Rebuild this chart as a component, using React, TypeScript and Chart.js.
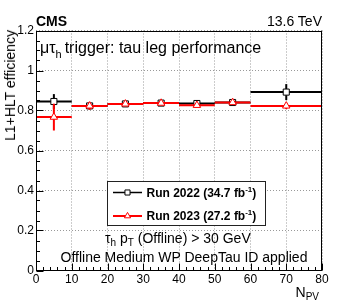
import React, { useEffect, useRef } from "react";
import { Chart, registerables } from "chart.js";

Chart.register(...registerables);

// ---------- data ----------
const binEdges = [0, 10, 20, 30, 40, 50, 60, 80];
const eff2022 = [0.845, 0.823, 0.833, 0.837, 0.835, 0.84, 0.892];
const err2022 = [0.037, 0.012, 0.008, 0.008, 0.01, 0.012, 0.04];
const eff2023 = [0.767, 0.823, 0.833, 0.837, 0.826, 0.84, 0.823];
const err2023 = [0.067, 0.02, 0.008, 0.008, 0.01, 0.012, 0.016];
const xTicks = [0, 10, 20, 30, 40, 50, 60, 70, 80];
const yTicks = [0, 0.2, 0.4, 0.6, 0.8, 1.0, 1.2];
const seriesLabels = ["Run 2022 (34.7 fb", "Run 2023 (27.2 fb"];
const seriesColors = ["#000000", "#ff0000"];
const seriesMarkers = ["rect", "triangle"];

const FONT = '"Liberation Sans", Arial, Helvetica, sans-serif';

function drawMarker(ctx: CanvasRenderingContext2D, style: string, x: number, y: number, r: number, color: string) {
  ctx.save();
  ctx.fillStyle = "#ffffff";
  ctx.strokeStyle = color;
  ctx.lineWidth = 1;
  ctx.beginPath();
  if (style === "rect") {
    const s = Math.SQRT1_2 * r;
    ctx.rect(x - s, y - s, 2 * s, 2 * s);
  } else {
    ctx.moveTo(x, y - r);
    ctx.lineTo(x + r * Math.sin(Math.PI / 3), y + r * Math.cos(Math.PI / 3));
    ctx.lineTo(x - r * Math.sin(Math.PI / 3), y + r * Math.cos(Math.PI / 3));
    ctx.closePath();
  }
  ctx.fill();
  ctx.stroke();
  ctx.restore();
}

export default function App() {
  const ref = useRef<HTMLCanvasElement>(null);

  useEffect(() => {
    const canvas = ref.current;
    if (!canvas) return;
    const centers = binEdges.slice(0, -1).map((e, i) => (e + binEdges[i + 1]) / 2);
    const stepData = (vals: number[]) => {
      const out: any[] = [];
      vals.forEach((v, i) => {
        out.push({ x: binEdges[i], y: v });
        out.push({ x: binEdges[i + 1], y: v });
        if (i < vals.length - 1) out.push({ x: binEdges[i + 1], y: null });
      });
      return out;
    };
    const allVals = [eff2022, eff2023];
    const allErrs = [err2022, err2023];
    const radii = [4.3, 4.3];

    // Chart.js draws the first dataset on top, so build in reverse series order.
    const datasets: any[] = [];
    [1, 0].forEach((s) => {
      const vals = allVals[s];
      datasets.push({
        type: "line",
        data: vals.map((v, i) => ({ x: centers[i], y: v })),
        showLine: false,
        pointStyle: seriesMarkers[s],
        pointRadius: radii[s],
        pointBackgroundColor: "#ffffff",
        pointBorderColor: seriesColors[s],
        pointBorderWidth: 1,
      });
      datasets.push({
        type: "line",
        data: stepData(vals),
        borderColor: seriesColors[s],
        borderWidth: 2,
        pointRadius: 0,
        spanGaps: false,
        tension: 0,
        fill: false,
        errSeries: s,
      });
    });

    const errPlugin = {
      id: "errbars",
      afterDatasetDraw(chart: any, args: any) {
        const ds = chart.data.datasets[args.index];
        if (ds.errSeries === undefined) return;
        const s = ds.errSeries;
        const xs = chart.scales.x;
        const ys = chart.scales.y;
        const ctx = chart.ctx;
        ctx.save();
        ctx.strokeStyle = seriesColors[s];
        ctx.lineWidth = 2;
        allVals[s].forEach((v, i) => {
          const px = xs.getPixelForValue(centers[i]);
          ctx.beginPath();
          ctx.moveTo(px, ys.getPixelForValue(v - allErrs[s][i]));
          ctx.lineTo(px, ys.getPixelForValue(v + allErrs[s][i]));
          ctx.stroke();
        });
        ctx.restore();
      },
    };

    const framePlugin = {
      id: "frame",
      afterDatasetsDraw(chart: any) {
        const { ctx, chartArea } = chart;
        const xs = chart.scales.x;
        const ys = chart.scales.y;
        ctx.save();
        ctx.strokeStyle = "#000";
        ctx.lineWidth = 1;
        const l = Math.round(chartArea.left) + 0.5;
        const r = Math.round(chartArea.right) - 0.5;
        const t = Math.round(chartArea.top) + 0.5;
        const b = Math.round(chartArea.bottom) - 0.5;
        ctx.strokeRect(l, t, r - l, b - t);
        ctx.beginPath();
        for (let k = 0; k < xTicks.length; k++) {
          const px = Math.round(xs.getPixelForValue(xTicks[k])) + 0.5;
          ctx.moveTo(px, b);
          ctx.lineTo(px, b - 7);
          if (k < xTicks.length - 1) {
            const step = (xTicks[k + 1] - xTicks[k]) / 5;
            for (let m = 1; m < 5; m++) {
              const mx = Math.round(xs.getPixelForValue(xTicks[k] + m * step)) + 0.5;
              ctx.moveTo(mx, b);
              ctx.lineTo(mx, b - 3.5);
            }
          }
        }
        for (let k = 0; k < yTicks.length; k++) {
          const py = Math.round(ys.getPixelForValue(yTicks[k])) + 0.5;
          ctx.moveTo(l, py);
          ctx.lineTo(l + 7, py);
          if (k < yTicks.length - 1) {
            const step = (yTicks[k + 1] - yTicks[k]) / 4;
            for (let m = 1; m < 4; m++) {
              const my = Math.round(ys.getPixelForValue(yTicks[k] + m * step)) + 0.5;
              ctx.moveTo(l, my);
              ctx.lineTo(l + 3.5, my);
            }
          }
        }
        ctx.stroke();
        ctx.restore();
      },
      afterDraw(chart: any) {
        const ctx = chart.ctx;
        ctx.save();
        ctx.fillStyle = "#ffffff";
        ctx.fillRect(107.5, 181.5, 158, 44);
        ctx.strokeStyle = "#222";
        ctx.lineWidth = 1;
        ctx.strokeRect(107.5, 181.5, 158, 44);
        const rows = [192.5, 216];
        rows.forEach((ry, s) => {
          ctx.strokeStyle = seriesColors[s];
          ctx.lineWidth = s === 0 ? 1.5 : 2;
          ctx.beginPath();
          ctx.moveTo(113, ry);
          ctx.lineTo(142, ry);
          ctx.stroke();
          drawMarker(ctx, seriesMarkers[s], 127.5, ry, 3.6, seriesColors[s]);
        });
        ctx.restore();
      },
    };

    const fmt = (v: number) => String(Number(v.toFixed(1)));

    const chart = new Chart(canvas, {
      type: "line",
      data: { datasets },
      plugins: [errPlugin, framePlugin],
      options: {
        animation: false,
        responsive: false,
        devicePixelRatio: 1,
        events: [],
        layout: { padding: { left: 0, top: 30.5, right: 35, bottom: 0 } },
        plugins: { legend: { display: false }, tooltip: { enabled: false }, title: { display: false } },
        scales: {
          x: {
            type: "linear",
            min: 0,
            max: 80,
            afterBuildTicks: (scale: any) => {
              scale.ticks = xTicks.map((v) => ({ value: v }));
            },
            afterFit: (scale: any) => {
              scale.height = 30.5;
            },
            ticks: {
              color: "#000",
              font: { family: FONT, size: 12 },
              padding: 2,
              maxRotation: 0,
              autoSkip: false,
              callback: (v: any) => fmt(Number(v)),
            },
            grid: { color: "#999", lineWidth: 1, drawTicks: false },
            border: { display: false, dash: [1, 2] },
          },
          y: {
            type: "linear",
            min: 0,
            max: 1.2,
            afterBuildTicks: (scale: any) => {
              scale.ticks = yTicks.map((v) => ({ value: v }));
            },
            afterFit: (scale: any) => {
              scale.width = 36;
            },
            ticks: {
              color: "#000",
              font: { family: FONT, size: 12 },
              padding: 2,
              autoSkip: false,
              callback: (v: any) => fmt(Number(v)),
            },
            grid: { color: "#999", lineWidth: 1, drawTicks: false },
            border: { display: false, dash: [1, 2] },
          },
        },
      } as any,
    });
    return () => chart.destroy();
  }, []);

  const abs = (o: any): React.CSSProperties => ({ position: "absolute", whiteSpace: "nowrap", lineHeight: 1, ...o });
  const sub = (t: string, size: number, top: number) => (
    <span style={{ fontSize: size, position: "relative", top }}>{t}</span>
  );

  return (
    <div style={{ position: "fixed", left: 0, top: 0, width: 357, height: 301, background: "#fff", fontFamily: FONT, color: "#000", overflow: "hidden" }}>
      <canvas ref={ref} width={357} height={301} style={{ position: "absolute", left: 0, top: 0, width: 357, height: 301 }} />
      <div style={abs({ left: 36, top: 13.5, fontSize: 14, fontWeight: "bold" })}>CMS</div>
      <div style={abs({ right: 35, top: 13.5, fontSize: 14 })}>13.6 TeV</div>
      <div style={abs({ left: 40, top: 40, fontSize: 16 })}>
        μτ{sub("h", 11, 5)}
        <span style={{ marginLeft: 3 }}>trigger: tau leg performance</span>
      </div>
      <div style={abs({ left: 105, top: 231, fontSize: 14 })}>
        τ{sub("h", 10, 3)} p{sub("T", 10, 3)} (Offline) &gt; 30 GeV
      </div>
      <div style={abs({ left: 60.5, top: 250, fontSize: 14 })}>Offline Medium WP DeepTau ID applied</div>
      <div
        style={{
          position: "absolute",
          left: 3,
          top: 30,
          fontSize: 14,
          lineHeight: "14px",
          whiteSpace: "nowrap",
          writingMode: "vertical-rl",
          transform: "rotate(180deg)",
        }}
      >
        L1+HLT efficiency
      </div>
      <div style={abs({ right: 38, top: 284.5, fontSize: 14 })}>
        N{sub("PV", 10, 3)}
      </div>
      {seriesLabels.map((lab, s) => (
        <div key={s} style={abs({ left: 146.5, top: (s === 0 ? 192.5 : 216) - 6, fontSize: 12, fontWeight: "bold" })}>
          {lab}
          <span style={{ fontSize: 8, position: "relative", top: -5 }}>-1</span>)
        </div>
      ))}
    </div>
  );
}
